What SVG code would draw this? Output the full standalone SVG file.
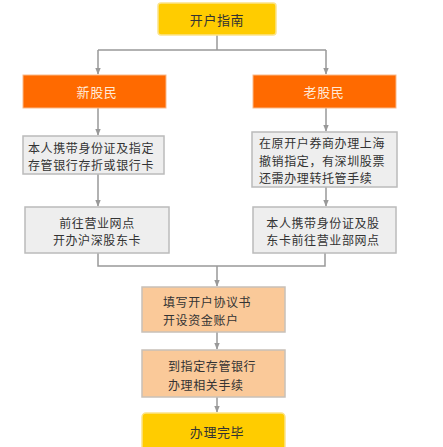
<svg xmlns="http://www.w3.org/2000/svg" width="443" height="447" viewBox="0 0 443 447">
<defs>
<style>
text{font-family:"Noto Sans CJK SC","Noto Sans",sans-serif;font-size:12px;letter-spacing:0.6px;fill:#333}
.yel{fill:#FFCC00;stroke:#FBE38A;stroke-width:1.5}
.org{fill:#FF6A00;stroke:#F9B98A;stroke-width:1}
.gry{fill:#EEEEEE;stroke:#BBBBBB;stroke-width:1.5}
.pch{fill:#FAC999;stroke:#C8C0B8;stroke-width:1.5}
.wt{fill:#FFE9D6;font-size:13px}
.big{font-size:13px}
.c{text-anchor:middle}
.ln{fill:none;stroke:#999999;stroke-width:1.5}
</style>
<marker id="ah" viewBox="0 0 10 10" refX="9" refY="5" markerWidth="7" markerHeight="7" orient="auto" markerUnits="userSpaceOnUse">
<path d="M0,1 L10,5 L0,9 z" fill="#999999"/>
</marker>
</defs>
<rect width="443" height="447" fill="#FFFFFF"/>
<g id="connectors">
<path class="ln" d="M217,35 V50 M98,50 H326"/>
<path class="ln" d="M98,50 V74" marker-end="url(#ah)"/>
<path class="ln" d="M326,50 V74" marker-end="url(#ah)"/>
<path class="ln" d="M98,108 V135" marker-end="url(#ah)"/>
<path class="ln" d="M326,108 V131" marker-end="url(#ah)"/>
<path class="ln" d="M98,174 V206" marker-end="url(#ah)"/>
<path class="ln" d="M326,187 V206" marker-end="url(#ah)"/>
<path class="ln" d="M98,253 V266 H325 V253"/>
<path class="ln" d="M217,266 V286" marker-end="url(#ah)"/>
<path class="ln" d="M217,332 V349" marker-end="url(#ah)"/>
<path class="ln" d="M217,397 V412" marker-end="url(#ah)"/>
</g>
<g id="start">
<rect class="yel" x="158" y="3" width="118" height="32" rx="3"/>
<text class="c big" x="217" y="25">开户指南</text>
</g>
<g id="new">
<rect class="org" x="23" y="75" width="143" height="33"/>
<text class="c wt" x="97" y="97">新股民</text>
</g>
<g id="old">
<rect class="org" x="253" y="75" width="143" height="33"/>
<text class="c wt" x="324" y="97">老股民</text>
</g>
<g id="new1">
<rect class="gry" x="23" y="136" width="141" height="38"/>
<text x="28" y="152.5">本人携带身份证及指定</text>
<text x="28" y="170">存管银行存折或银行卡</text>
</g>
<g id="old1">
<rect class="gry" x="252" y="132" width="145" height="55"/>
<text x="259" y="148">在原开户券商办理上海</text>
<text x="259" y="165.5">撤销指定，有深圳股票</text>
<text x="259" y="183">还需办理转托管手续</text>
</g>
<g id="new2">
<rect class="gry" x="25" y="207" width="144" height="46"/>
<text class="c" x="97" y="227.5">前往营业网点</text>
<text class="c" x="97" y="245">开办沪深股东卡</text>
</g>
<g id="old2">
<rect class="gry" x="253" y="207" width="143" height="46"/>
<text class="c" x="323" y="227.5">本人携带身份证及股</text>
<text class="c" x="323" y="245">东卡前往营业部网点</text>
</g>
<g id="fill">
<rect class="pch" x="142" y="287" width="143" height="45"/>
<text x="163" y="307">填写开户协议书</text>
<text x="163" y="325">开设资金账户</text>
</g>
<g id="bank">
<rect class="pch" x="142" y="350" width="143" height="47"/>
<text x="168" y="371">到指定存管银行</text>
<text x="168" y="390">办理相关手续</text>
</g>
<g id="done">
<rect class="yel" x="142" y="413" width="143" height="40" rx="4"/>
<text class="c big" x="217" y="437">办理完毕</text>
</g>
</svg>
